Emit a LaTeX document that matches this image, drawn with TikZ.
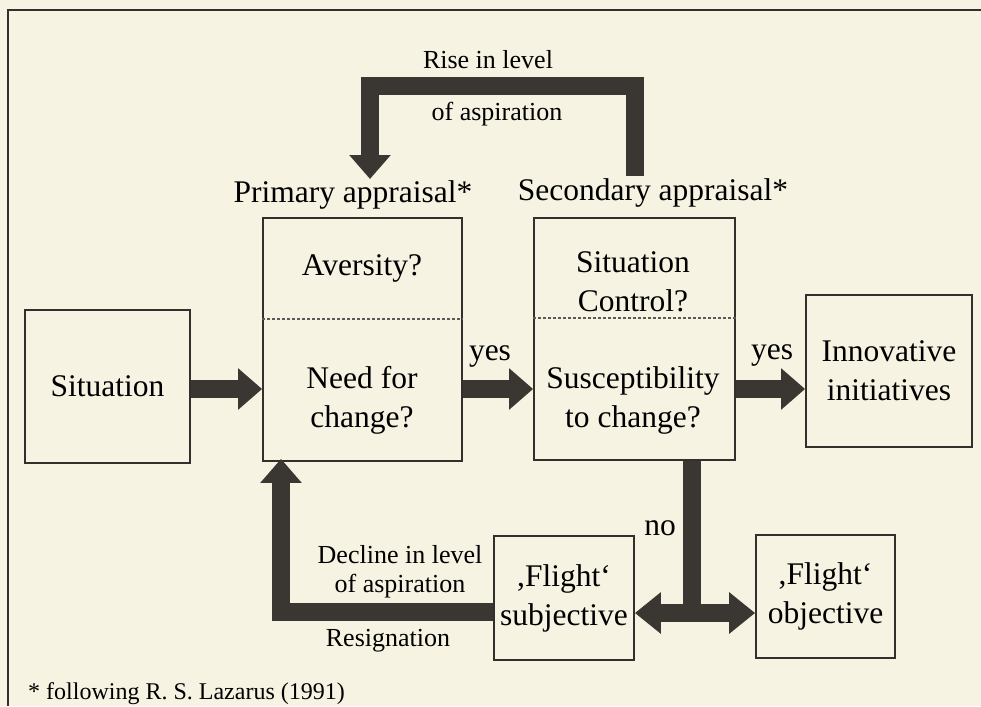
\documentclass[tikz,border=0pt]{standalone}
\usepackage{fontspec}
\setmainfont{Liberation Serif}
\usetikzlibrary{arrows.meta}
\definecolor{bgc}{RGB}{246,243,226}
\definecolor{arrc}{RGB}{58,54,50}
\definecolor{linec}{RGB}{50,48,45}
\tikzset{
  box/.style={draw=linec, line width=1.8pt, inner sep=0pt, align=center, font=\fontsize{31.5}{39}\selectfont},
  txt/.style={inner sep=0pt, align=center, font=\fontsize{31.5}{39}\selectfont},
  small/.style={inner sep=0pt, align=center, font=\fontsize{26}{32}\selectfont},
  fat/.style={draw=arrc, line width=18pt, line join=miter, -{Triangle[width=40pt,length=24pt]}},
  fatplain/.style={draw=arrc, line width=18pt, line join=miter},
  fatboth/.style={draw=arrc, line width=18pt, {Triangle[width=40pt,length=26pt]}-{Triangle[width=40pt,length=26pt]}},
  divider/.style={draw=linec!80, line width=1.2pt, densely dashed}
}
\begin{document}
\begin{tikzpicture}[x=1pt,y=-1pt]
\useasboundingbox[fill=bgc] (0,0) rectangle (981,706);
% frame
\coordinate (frTL) at (8,10);
\coordinate (frTR) at (981,10);
\coordinate (frBL) at (8,706);
\draw[linec, line width=2.4pt] (frBL) -- (frTL) -- (frTR);

% boxes
\node[box, minimum width=165pt, minimum height=153pt] (sit) at (107.5,386.5) {Situation};
\node[box, minimum width=199pt, minimum height=243pt] (prim) at (362.5,339.5) {};
\node[box, minimum width=201pt, minimum height=242pt] (sec) at (634.5,339) {};
\node[box, minimum width=166pt, minimum height=152pt] (inno) at (889,371) {Innovative\\initiatives};
\node[box, minimum width=140pt, minimum height=124pt] (subj) at (564,598) {,Flight`\\subjective};
\node[box, minimum width=139pt, minimum height=123pt] (obj) at (825.5,596.5) {,Flight`\\objective};

% dividers
\coordinate (dP) at (0,319);
\coordinate (dS) at (0,318);
\draw[divider] (prim.west |- dP) -- (prim.east |- dP);
\draw[divider] (sec.west |- dS) -- (sec.east |- dS);

% texts inside split boxes
\node[txt] (aver) at (362,268) {Aversity?};
\node[txt] (need) at (362,400) {Need for\\change?};
\node[txt] (sitc) at (633,282) {Situation\\Control?};
\node[txt] (susc) at (633,400) {Susceptibility\\to change?};

% labels above
\node[txt] (primlab) at (353,195) {Primary appraisal*};
\node[txt] (seclab) at (653,193) {Secondary appraisal*};
\node[small] (rise1) at (488,60) {Rise in level};
\node[small] (rise2) at (497,114) {of aspiration};
\node[txt] (yes1) at (490,356) {yes};
\node[txt] (yes2) at (772,355) {yes};
\node[txt] (no) at (660,528) {no};
\node[small] (dec1) at (400,555) {Decline in level};
\node[small] (dec2) at (400,586) {of aspiration};
\node[small] (resig) at (388,641) {Resignation};
\node[small, anchor=west, font=\fontsize{24}{30}\selectfont] (foot) at (28,694) {* following R. S. Lazarus (1991)};

% arrows
\coordinate (row) at (0,389);
\draw[fat] (sit.east |- row) -- (prim.west |- row);
\draw[fat] (prim.east |- row) -- (sec.west |- row);
\draw[fat] (sec.east |- row) -- (inno.west |- row);

\coordinate (riseTop) at (500,86);
\coordinate (riseR) at (635,176);
\coordinate (riseL) at (370,179);
\draw[fat] (riseR) -- (riseR |- riseTop) -- (riseL |- riseTop) -- (riseL);

\coordinate (split) at (692,613);
\draw[fatplain] (sec.south -| split) -- ([yshift=9pt]split);
\draw[fatboth] (subj.east |- split) -- (obj.west |- split);

\coordinate (dec) at (281,612);
\draw[fat] (subj.west |- dec) -- (dec) -- ([yshift=3pt]dec |- prim.south);
\end{tikzpicture}
\end{document}
